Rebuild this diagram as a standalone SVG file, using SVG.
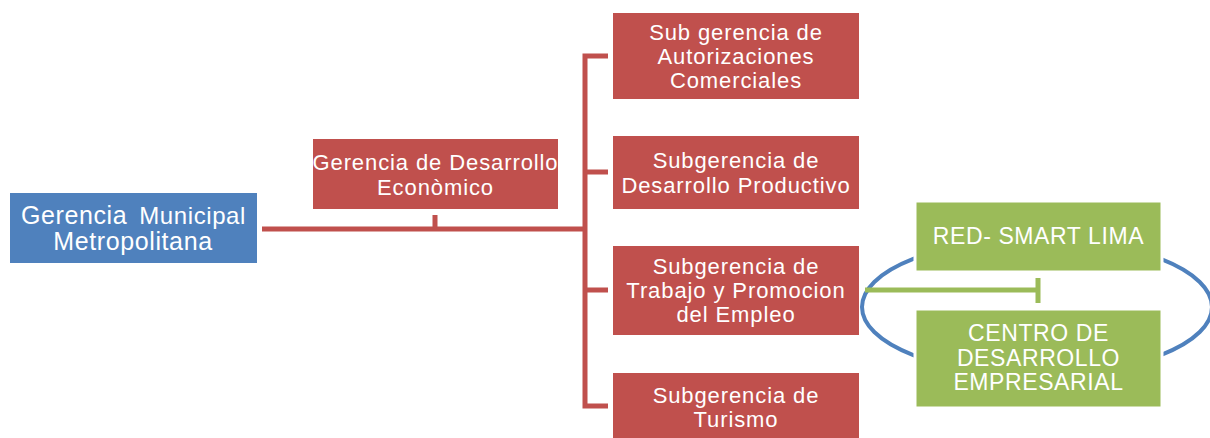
<svg xmlns="http://www.w3.org/2000/svg" width="1210" height="438" viewBox="0 0 1210 438">
<style>
text{font-family:"Liberation Sans",Arial,sans-serif;fill:#fff;text-anchor:middle}
.r{fill:#C0504D}.b{fill:#4F81BD}.g{fill:#9BBB59;stroke:#fff;stroke-width:3}
.t{font-size:22px;letter-spacing:0.9px}
.tb{font-size:25px;letter-spacing:0.6px}
.tg{font-size:23px;letter-spacing:0.6px}
.rl{stroke:#C0504D;stroke-width:5;fill:none}
.gl{stroke:#9BBB59;stroke-width:5;fill:none}
</style>
<rect width="1210" height="438" fill="#fff"/>
<g id="connectors">
<path class="rl" d="M262 229H585M435 215V229M608 56H585V406H608M585 172H608M585 290H608"/>
</g>
<g id="gmm"><rect class="b" x="10" y="193" width="247" height="70"/>
<text class="tb" x="21" y="224" style="text-anchor:start">Gerencia</text>
<text class="tb" x="246" y="224" style="text-anchor:end;font-size:24px">Municipal</text>
<text class="tb" x="133" y="250">Metropolitana</text></g>
<g id="gde"><rect class="r" x="313" y="139" width="245" height="70"/>
<text class="t" x="435.5" y="170">Gerencia de Desarrollo</text>
<text class="t" x="435.5" y="195">Econòmico</text></g>
<g id="sac"><rect class="r" x="613" y="13" width="246" height="86"/>
<text class="t" x="736" y="40">Sub gerencia de</text>
<text class="t" x="736" y="64">Autorizaciones</text>
<text class="t" x="736" y="88">Comerciales</text></g>
<g id="sdp"><rect class="r" x="613" y="136" width="246" height="73"/>
<text class="t" x="736" y="168">Subgerencia de</text>
<text class="t" x="736" y="193">Desarrollo Productivo</text></g>
<g id="stpe"><rect class="r" x="613" y="246" width="246" height="89"/>
<text class="t" x="736" y="274">Subgerencia de</text>
<text class="t" x="736" y="298">Trabajo y Promocion</text>
<text class="t" x="736" y="322">del Empleo</text></g>
<g id="stur"><rect class="r" x="613" y="373" width="246" height="65"/>
<text class="t" x="736" y="403">Subgerencia de</text>
<text class="t" x="736" y="427">Turismo</text></g>
<g id="ellipse"><ellipse cx="1037" cy="307" rx="175" ry="68" fill="none" stroke="#4F81BD" stroke-width="4"/></g>
<g id="connectors-green"><path class="gl" d="M865 290H1038M1038 278V303"/></g>
<g id="red"><rect class="g" x="915" y="201" width="247" height="71"/>
<text class="tg" x="1038.5" y="244">RED- SMART LIMA</text></g>
<g id="cde"><rect class="g" x="915" y="309" width="247" height="99"/>
<text class="tg" x="1038.5" y="341">CENTRO DE</text>
<text class="tg" x="1038.5" y="366">DESARROLLO</text>
<text class="tg" x="1038.5" y="390">EMPRESARIAL</text></g>
</svg>
